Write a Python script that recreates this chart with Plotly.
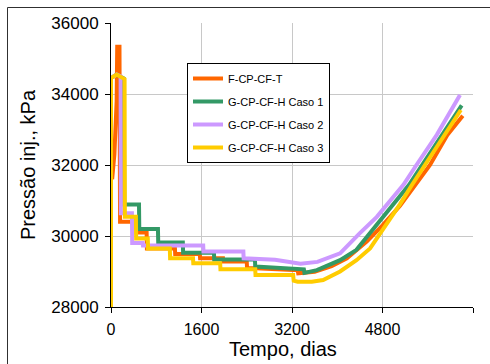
import plotly.graph_objects as go

# ---- data ----
names = ["F-CP-CF-T", "G-CP-CF-H Caso 1", "G-CP-CF-H Caso 2", "G-CP-CF-H Caso 3"]
colors = ["#FF6600", "#339966", "#CC99FF", "#FFCC00"]

t_fcp = [20, 60, 100, 110, 150, 160, 450, 455, 630, 635, 1130, 1135, 1570, 1575, 1980, 1985,
         2400, 2405, 3220, 3300, 3310, 3600, 3900, 4170, 4526, 4800, 5110, 5375, 5640, 5946, 6220]
p_fcp = [31600, 32300, 33800, 35330, 35330, 30400, 30400, 30100, 30100, 29650, 29650, 29490,
         29490, 29370, 29370, 29280, 29280, 29100, 29040, 29040, 28950, 28990, 29150, 29370,
         29850, 30300, 30850, 31437, 32000, 32845, 33390]

t_c1 = [0, 100, 225, 235, 495, 500, 830, 835, 1270, 1275, 1820, 1825, 2545, 2550, 3410, 3420,
        3640, 4050, 4340, 4640, 4810, 5110, 5270, 5500, 5850, 6200]
p_c1 = [34450, 34550, 34440, 30890, 30890, 30200, 30200, 29820, 29820, 29530, 29530, 29340,
        29340, 29140, 29060, 28960, 29040, 29320, 29610, 30200, 30500, 31100, 31440, 32000,
        32850, 33680]

t_c2 = [0, 100, 170, 175, 370, 375, 560, 565, 1630, 1635, 2340, 2345, 2900, 3200, 3350, 3650,
        4050, 4400, 4700, 4990, 5170, 5400, 5760, 6170]
p_c2 = [34450, 34550, 34500, 30640, 30640, 29800, 29800, 29730, 29730, 29560, 29560, 29370,
        29330, 29250, 29220, 29270, 29510, 30080, 30540, 31100, 31440, 32000, 32850, 33970]

t_c3 = [0, 0, 100, 240, 245, 440, 445, 650, 655, 1040, 1045, 1450, 1455, 1930, 1935, 2550, 2555,
        3220, 3230, 3300, 3550, 3750, 4050, 4340, 4580, 4800, 5110, 5320, 5550, 5890, 6185]
p_c3 = [28000, 34450, 34550, 34420, 30540, 30540, 29930, 29930, 29650, 29650, 29370, 29370,
        29230, 29230, 29060, 29060, 28900, 28900, 28740, 28710, 28710, 28760, 29000, 29320,
        29650, 30150, 30900, 31437, 32000, 32845, 33550]

series_t = [t_fcp, t_c1, t_c2, t_c3]
series_p = [p_fcp, p_c1, p_c2, p_c3]

x_ticks = [0, 1600, 3200, 4800, 6400]
y_ticks = [28000, 30000, 32000, 34000, 36000]

FONT = "Arial, Liberation Sans, sans-serif"

fig = go.Figure()
for i in range(4):
    fig.add_trace(go.Scatter(
        x=series_t[i], y=series_p[i], mode="lines", name=names[i],
        legendgroup="g%d" % i,
        line=dict(color=colors[i], width=4),
    ))

W, H = 490, 364
L, R, T, B = 111, 17, 23, 57
pw, ph = W - L - R, H - T - B

def px2x(px):
    return (px - L) / pw

def py2y(py):
    return (H - B - py) / ph

fig.update_layout(
    width=W, height=H,
    margin=dict(l=L, r=R, t=T, b=B),
    paper_bgcolor="white", plot_bgcolor="white",
    font=dict(family=FONT, color="#000000"),
    showlegend=True,
    legend=dict(
        x=px2x(187), y=py2y(63), xanchor="left", yanchor="top",
        bgcolor="white", bordercolor="#000000", borderwidth=1,
        font=dict(size=11, family=FONT),
        traceorder="grouped", tracegroupgap=4,
    ),
    xaxis=dict(
        range=[0, 6400], tickvals=x_ticks, ticktext=[str(v) for v in x_ticks],
        showgrid=True, gridcolor="#c8c8c8", gridwidth=1,
        showline=True, linecolor="#000000", linewidth=1,
        ticks="outside", ticklen=5, tickcolor="#000000", ticklabelstandoff=3,
        tickfont=dict(size=16, family=FONT), zeroline=False,
    ),
    yaxis=dict(
        range=[28000, 36000], tickvals=y_ticks, ticktext=[str(v) for v in y_ticks],
        showgrid=True, gridcolor="#c8c8c8", gridwidth=1,
        showline=True, linecolor="#000000", linewidth=1,
        ticks="outside", ticklen=5, tickcolor="#000000", ticklabelstandoff=3,
        tickfont=dict(size=17, family=FONT), zeroline=False,
    ),
    annotations=[
        dict(text="Tempo, dias", x=px2x(283), y=py2y(349), xref="paper", yref="paper",
             xanchor="center", yanchor="middle", showarrow=False,
             font=dict(size=20, family=FONT)),
        dict(text="Pressão inj., kPa", x=px2x(28), y=py2y(165), xref="paper", yref="paper",
             xanchor="center", yanchor="middle", showarrow=False, textangle=-90,
             font=dict(size=20, family=FONT)),
    ],
    shapes=[
        dict(type="line", xref="paper", yref="paper", x0=px2x(7.5), x1=px2x(7.5),
             y0=py2y(370), y1=py2y(7.5), line=dict(color="#303030", width=1)),
        dict(type="line", xref="paper", yref="paper", x0=px2x(7.5), x1=px2x(500),
             y0=py2y(7.5), y1=py2y(7.5), line=dict(color="#303030", width=1)),
    ],
)

fig.write_html("out.html", config={"displayModeBar": False},
               post_script="document.body.style.margin='0';document.body.style.overflow='hidden';")
